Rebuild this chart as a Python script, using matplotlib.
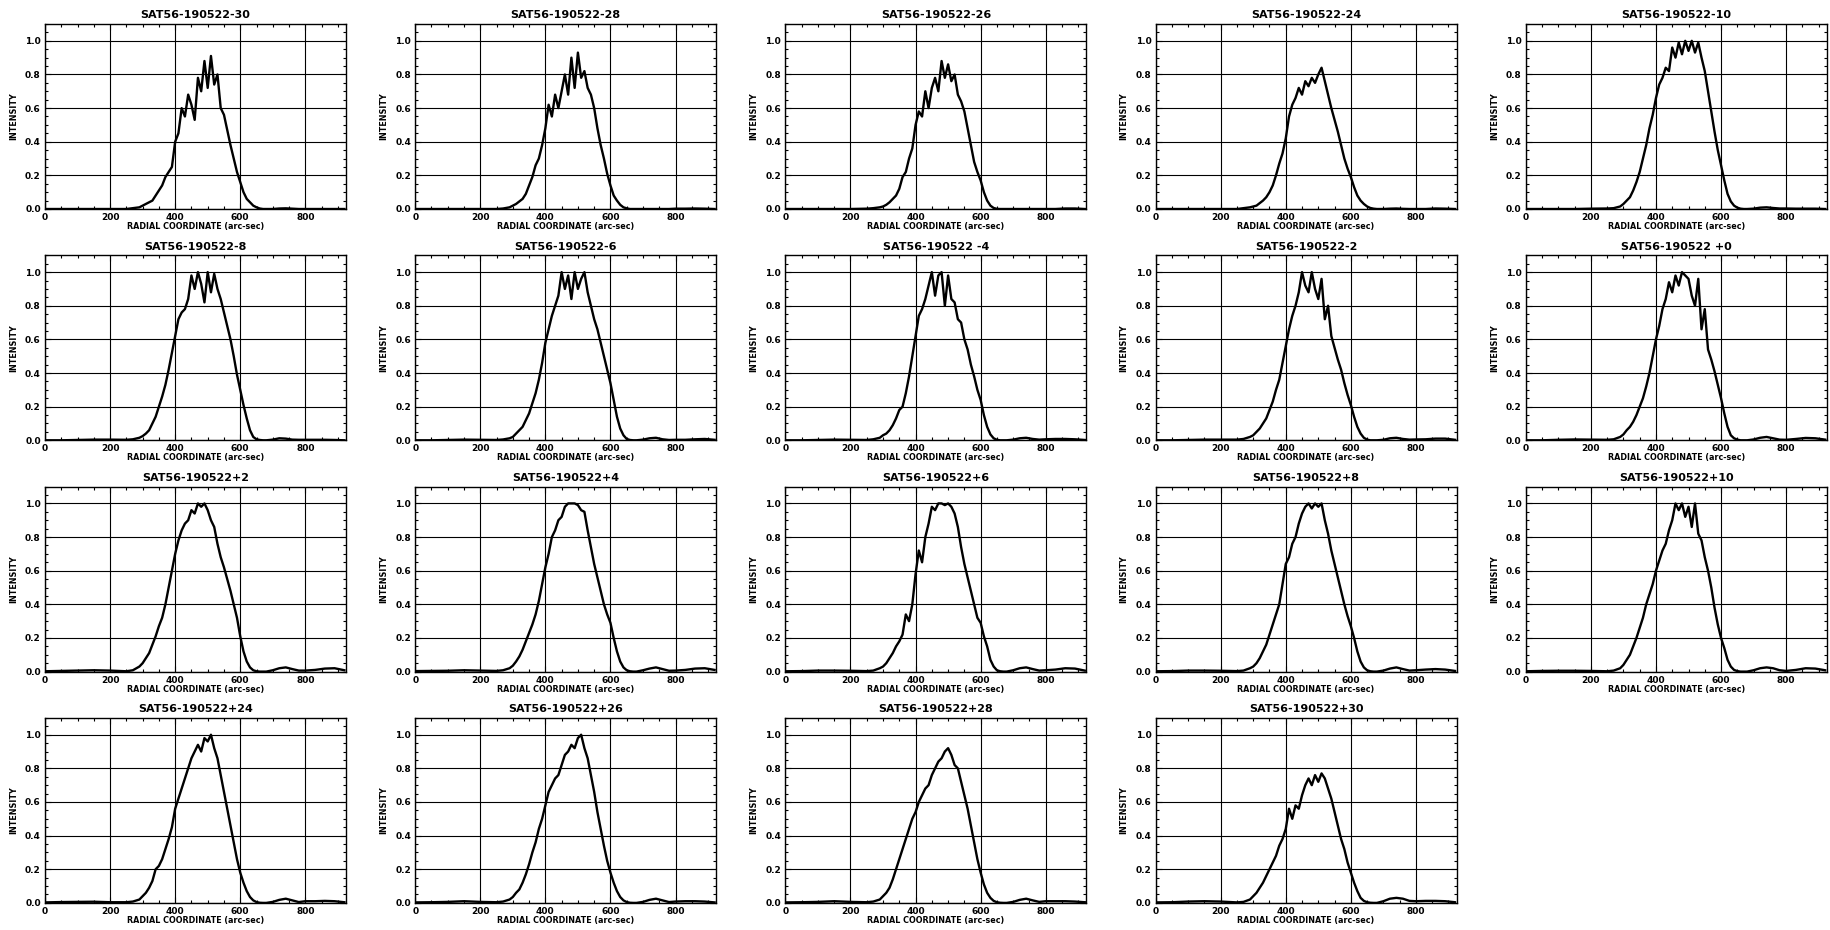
import numpy as np
import matplotlib
matplotlib.use("Agg")
import matplotlib.pyplot as plt
from matplotlib.ticker import MultipleLocator

# radial coordinate (arc-sec) sampled along every profile
radial = [0, 50, 100, 150, 200, 250, 270, 290,
          300, 310, 320, 330, 340, 350, 360, 370, 380, 390,
          400, 410, 420, 430, 440, 450, 460, 470, 480, 490,
          500, 510, 520, 530, 540, 550, 560, 570, 580, 590,
          600, 610, 620, 630, 640, 650, 660, 670, 680,
          700, 720, 740, 760, 780, 800, 830, 860, 890, 920]

titles = ["SAT56-190522-30", "SAT56-190522-28", "SAT56-190522-26", "SAT56-190522-24",
          "SAT56-190522-10", "SAT56-190522-8", "SAT56-190522-6", "SAT56-190522 -4",
          "SAT56-190522-2", "SAT56-190522 +0", "SAT56-190522+2", "SAT56-190522+4",
          "SAT56-190522+6", "SAT56-190522+8", "SAT56-190522+10", "SAT56-190522+24",
          "SAT56-190522+26", "SAT56-190522+28", "SAT56-190522+30"]

m30 = [0, 0, 0, 0, 0, 0, 0.005, 0.01,
       0.02, 0.03, 0.04, 0.05, 0.08, 0.11, 0.14, 0.19, 0.22, 0.25,
       0.40, 0.45, 0.60, 0.55, 0.68, 0.62, 0.53, 0.78, 0.70, 0.88,
       0.72, 0.91, 0.74, 0.80, 0.60, 0.56, 0.47, 0.38, 0.30, 0.22,
       0.16, 0.10, 0.06, 0.04, 0.02, 0.01, 0.003, 0, 0,
       0, 0.003, 0.004, 0.002, 0, 0, 0, 0, 0, 0]
m28 = [0, 0, 0, 0, 0, 0, 0.003, 0.01,
       0.02, 0.03, 0.045, 0.06, 0.09, 0.14, 0.19, 0.26, 0.30, 0.38,
       0.48, 0.62, 0.55, 0.68, 0.60, 0.70, 0.80, 0.68, 0.90, 0.72,
       0.93, 0.78, 0.82, 0.72, 0.68, 0.60, 0.48, 0.38, 0.30, 0.21,
       0.14, 0.08, 0.05, 0.025, 0.01, 0.004, 0, 0, 0,
       0, 0, 0, 0, 0, 0.002, 0.002, 0.003, 0.002, 0]
m26 = [0, 0, 0, 0, 0, 0.002, 0.005, 0.01,
       0.015, 0.025, 0.04, 0.06, 0.08, 0.12, 0.19, 0.22, 0.30, 0.36,
       0.50, 0.58, 0.55, 0.70, 0.60, 0.72, 0.78, 0.70, 0.88, 0.78,
       0.86, 0.76, 0.80, 0.68, 0.64, 0.58, 0.48, 0.38, 0.28, 0.22,
       0.17, 0.10, 0.05, 0.02, 0.006, 0.001, 0, 0, 0,
       0, 0, 0, 0, 0, 0, 0, 0.003, 0.003, 0]
m24 = [0, 0, 0, 0, 0, 0, 0.005, 0.01,
       0.015, 0.02, 0.035, 0.05, 0.07, 0.10, 0.14, 0.20, 0.27, 0.33,
       0.42, 0.55, 0.62, 0.66, 0.72, 0.68, 0.76, 0.73, 0.78, 0.75,
       0.80, 0.84, 0.76, 0.68, 0.60, 0.53, 0.46, 0.38, 0.30, 0.24,
       0.19, 0.13, 0.08, 0.05, 0.03, 0.015, 0.006, 0.002, 0,
       0, 0.002, 0.003, 0.001, 0, 0, 0, 0.003, 0.002, 0]
m10 = [0, 0, 0, 0, 0.002, 0.003, 0.005, 0.015,
       0.03, 0.05, 0.07, 0.11, 0.16, 0.22, 0.30, 0.38, 0.48, 0.56,
       0.66, 0.74, 0.78, 0.84, 0.82, 0.96, 0.90, 0.99, 0.92, 1.00,
       0.94, 1.00, 0.93, 0.99, 0.90, 0.82, 0.70, 0.58, 0.46, 0.35,
       0.26, 0.17, 0.09, 0.045, 0.02, 0.008, 0.002, 0, 0,
       0.002, 0.008, 0.01, 0.006, 0.003, 0.003, 0.002, 0.002, 0.002, 0]
m8 = [0, 0, 0.002, 0.004, 0.004, 0.003, 0.006, 0.015,
      0.025, 0.04, 0.06, 0.10, 0.14, 0.20, 0.26, 0.33, 0.42, 0.52,
      0.62, 0.72, 0.76, 0.78, 0.84, 0.98, 0.90, 1.00, 0.93, 0.82,
      1.00, 0.88, 0.99, 0.90, 0.84, 0.76, 0.68, 0.60, 0.50, 0.39,
      0.30, 0.21, 0.13, 0.06, 0.02, 0.006, 0.002, 0, 0,
      0.004, 0.012, 0.01, 0.004, 0.003, 0.003, 0.003, 0.003, 0.002, 0]
m6 = [0, 0, 0.002, 0.004, 0.003, 0.002, 0.005, 0.012,
      0.02, 0.04, 0.06, 0.08, 0.12, 0.16, 0.22, 0.28, 0.36, 0.46,
      0.58, 0.66, 0.74, 0.80, 0.86, 1.00, 0.90, 0.98, 0.84, 1.00,
      0.90, 0.96, 1.00, 0.88, 0.80, 0.72, 0.66, 0.58, 0.50, 0.42,
      0.34, 0.24, 0.14, 0.07, 0.03, 0.008, 0.002, 0, 0,
      0.004, 0.012, 0.015, 0.006, 0.002, 0.003, 0.003, 0.006, 0.008, 0.003]
m4 = [0, 0, 0.002, 0.004, 0.003, 0.002, 0.006, 0.015,
      0.03, 0.04, 0.06, 0.09, 0.13, 0.18, 0.20, 0.28, 0.38, 0.50,
      0.62, 0.74, 0.78, 0.84, 0.92, 1.00, 0.86, 0.98, 1.00, 0.80,
      0.98, 0.84, 0.82, 0.72, 0.70, 0.60, 0.54, 0.45, 0.38, 0.30,
      0.24, 0.15, 0.08, 0.035, 0.012, 0.003, 0, 0, 0,
      0.004, 0.012, 0.015, 0.008, 0.004, 0.006, 0.008, 0.008, 0.006, 0.002]
m2 = [0, 0, 0.002, 0.004, 0.004, 0.004, 0.008, 0.02,
      0.03, 0.05, 0.07, 0.10, 0.13, 0.18, 0.23, 0.30, 0.36, 0.46,
      0.56, 0.66, 0.74, 0.80, 0.88, 1.00, 0.92, 0.88, 1.00, 0.90,
      0.84, 0.96, 0.72, 0.80, 0.62, 0.55, 0.48, 0.42, 0.34, 0.27,
      0.21, 0.14, 0.08, 0.04, 0.015, 0.004, 0, 0, 0,
      0.003, 0.012, 0.015, 0.008, 0.004, 0.005, 0.006, 0.01, 0.01, 0.003]
p0 = [0, 0, 0.003, 0.005, 0.004, 0.003, 0.006, 0.02,
      0.035, 0.06, 0.08, 0.11, 0.15, 0.20, 0.25, 0.32, 0.40, 0.50,
      0.60, 0.68, 0.78, 0.84, 0.94, 0.88, 0.98, 0.92, 1.00, 0.98,
      0.96, 0.86, 0.80, 0.96, 0.66, 0.78, 0.54, 0.48, 0.41, 0.33,
      0.25, 0.16, 0.08, 0.03, 0.012, 0.004, 0, 0, 0,
      0.005, 0.015, 0.02, 0.012, 0.004, 0.003, 0.008, 0.014, 0.012, 0.004]
p2 = [0.002, 0.004, 0.006, 0.008, 0.006, 0.002, 0.008, 0.03,
      0.05, 0.08, 0.11, 0.16, 0.21, 0.27, 0.32, 0.40, 0.50, 0.60,
      0.70, 0.78, 0.84, 0.88, 0.90, 0.96, 0.94, 1.00, 0.98, 1.00,
      0.96, 0.90, 0.86, 0.76, 0.68, 0.62, 0.55, 0.48, 0.40, 0.32,
      0.21, 0.12, 0.06, 0.025, 0.008, 0.002, 0, 0, 0,
      0.008, 0.02, 0.025, 0.015, 0.006, 0.006, 0.01, 0.018, 0.02, 0.008]
p4 = [0.003, 0.004, 0.005, 0.008, 0.006, 0.004, 0.008, 0.02,
      0.035, 0.06, 0.09, 0.13, 0.18, 0.23, 0.28, 0.34, 0.42, 0.52,
      0.62, 0.70, 0.80, 0.84, 0.90, 0.92, 0.98, 1.00, 1.00, 1.00,
      0.99, 0.96, 0.95, 0.84, 0.74, 0.64, 0.56, 0.48, 0.40, 0.34,
      0.29, 0.20, 0.12, 0.06, 0.025, 0.008, 0.002, 0, 0,
      0.008, 0.018, 0.025, 0.015, 0.005, 0.006, 0.01, 0.018, 0.02, 0.01]
p6 = [0.002, 0.003, 0.006, 0.006, 0.005, 0.003, 0.006, 0.02,
      0.03, 0.05, 0.08, 0.11, 0.15, 0.18, 0.22, 0.34, 0.30, 0.40,
      0.58, 0.72, 0.65, 0.80, 0.88, 0.98, 0.96, 1.00, 1.00, 0.99,
      1.00, 0.98, 0.94, 0.86, 0.74, 0.64, 0.56, 0.48, 0.40, 0.32,
      0.29, 0.21, 0.15, 0.07, 0.03, 0.008, 0.002, 0, 0,
      0.008, 0.02, 0.025, 0.015, 0.006, 0.008, 0.012, 0.02, 0.018, 0.006]
p8 = [0.002, 0.003, 0.006, 0.006, 0.005, 0.003, 0.006, 0.02,
      0.03, 0.05, 0.08, 0.12, 0.16, 0.22, 0.28, 0.34, 0.40, 0.52,
      0.64, 0.68, 0.76, 0.80, 0.88, 0.94, 0.98, 1.00, 0.97, 1.00,
      0.98, 1.00, 0.90, 0.82, 0.72, 0.64, 0.56, 0.48, 0.40, 0.33,
      0.27, 0.20, 0.12, 0.06, 0.025, 0.008, 0.002, 0, 0,
      0.006, 0.018, 0.025, 0.015, 0.006, 0.008, 0.012, 0.015, 0.012, 0.004]
p10 = [0.002, 0.004, 0.005, 0.005, 0.004, 0.002, 0.006, 0.02,
       0.04, 0.07, 0.10, 0.15, 0.20, 0.26, 0.32, 0.40, 0.46, 0.52,
       0.60, 0.66, 0.72, 0.76, 0.84, 0.90, 1.00, 0.96, 1.00, 0.92,
       0.98, 0.86, 1.00, 0.82, 0.78, 0.68, 0.60, 0.50, 0.38, 0.28,
       0.20, 0.14, 0.07, 0.03, 0.01, 0.003, 0, 0, 0,
       0.008, 0.02, 0.025, 0.02, 0.008, 0.004, 0.01, 0.02, 0.018, 0.008]
p24 = [0.003, 0.005, 0.006, 0.007, 0.004, 0.004, 0.008, 0.02,
       0.04, 0.06, 0.09, 0.13, 0.20, 0.22, 0.26, 0.32, 0.38, 0.45,
       0.56, 0.62, 0.68, 0.74, 0.80, 0.86, 0.90, 0.94, 0.90, 0.98,
       0.96, 1.00, 0.92, 0.86, 0.76, 0.66, 0.56, 0.46, 0.36, 0.26,
       0.18, 0.12, 0.07, 0.035, 0.015, 0.005, 0.001, 0, 0,
       0.006, 0.018, 0.025, 0.015, 0.005, 0.01, 0.01, 0.012, 0.01, 0.004]
p26 = [0.003, 0.004, 0.006, 0.01, 0.006, 0.004, 0.008, 0.02,
       0.035, 0.06, 0.08, 0.12, 0.17, 0.23, 0.30, 0.36, 0.44, 0.50,
       0.58, 0.66, 0.70, 0.74, 0.76, 0.82, 0.88, 0.90, 0.94, 0.92,
       0.98, 1.00, 0.92, 0.86, 0.76, 0.66, 0.54, 0.44, 0.34, 0.25,
       0.18, 0.12, 0.07, 0.035, 0.015, 0.005, 0.001, 0, 0,
       0.006, 0.018, 0.025, 0.015, 0.005, 0.008, 0.01, 0.01, 0.008, 0.003]
p28 = [0.003, 0.004, 0.006, 0.01, 0.006, 0.004, 0.008, 0.02,
       0.04, 0.06, 0.09, 0.14, 0.20, 0.26, 0.32, 0.38, 0.44, 0.50,
       0.54, 0.60, 0.64, 0.68, 0.70, 0.76, 0.80, 0.84, 0.86, 0.90,
       0.92, 0.88, 0.82, 0.80, 0.72, 0.64, 0.56, 0.46, 0.36, 0.26,
       0.18, 0.11, 0.06, 0.03, 0.012, 0.004, 0.001, 0, 0,
       0.006, 0.018, 0.025, 0.015, 0.006, 0.01, 0.01, 0.01, 0.008, 0.004]
p30 = [0.003, 0.004, 0.008, 0.01, 0.008, 0.003, 0.006, 0.02,
       0.04, 0.06, 0.09, 0.12, 0.16, 0.20, 0.24, 0.28, 0.34, 0.38,
       0.44, 0.56, 0.50, 0.58, 0.56, 0.64, 0.70, 0.74, 0.70, 0.76,
       0.72, 0.77, 0.74, 0.68, 0.62, 0.54, 0.46, 0.38, 0.32, 0.24,
       0.18, 0.12, 0.07, 0.03, 0.012, 0.004, 0.001, 0, 0,
       0.01, 0.025, 0.03, 0.025, 0.012, 0.01, 0.012, 0.012, 0.01, 0.004]

profiles = [m30, m28, m26, m24, m10, m8, m6, m4, m2, p0,
            p2, p4, p6, p8, p10, p24, p26, p28, p30]

W, H = 1831, 930
fig = plt.figure(figsize=(W / 100, H / 100), dpi=100)
fig.patch.set_facecolor("white")

for i, (title, prof) in enumerate(zip(titles, profiles)):
    r, c = divmod(i, 5)
    left = 45 + 370.2 * c
    top = 24 + 231.3 * r
    ax = fig.add_axes([left / W, 1 - (top + 185) / H, 301 / W, 185 / H])
    ax.plot(radial, prof, color="black", lw=1.7)
    ax.set_xlim(0, 925)
    ax.set_ylim(0, 1.1)
    ax.xaxis.set_major_locator(MultipleLocator(200))
    ax.xaxis.set_minor_locator(MultipleLocator(50))
    ax.yaxis.set_major_locator(MultipleLocator(0.2))
    ax.yaxis.set_minor_locator(MultipleLocator(0.05))
    ax.yaxis.set_major_formatter(plt.FormatStrFormatter("%.1f"))
    ax.grid(True, which="major", color="black", lw=0.8)
    ax.tick_params(which="both", direction="in", top=True, right=True,
                   color="black", width=0.8)
    ax.tick_params(which="major", length=4, labelsize=6.5, pad=3)
    ax.tick_params(which="minor", length=2.5)
    for lab in ax.get_xticklabels() + ax.get_yticklabels():
        lab.set_fontweight("bold")
    for sp in ax.spines.values():
        sp.set_linewidth(1.0)
    ax.set_title(title, fontsize=8, fontweight="bold", pad=4)
    ax.set_xlabel("RADIAL COORDINATE (arc-sec)", fontsize=5.8, fontweight="bold", labelpad=0)
    ax.set_ylabel("INTENSITY", fontsize=5.8, fontweight="bold", labelpad=5)

fig.savefig("out.png", dpi=100, facecolor="white")
